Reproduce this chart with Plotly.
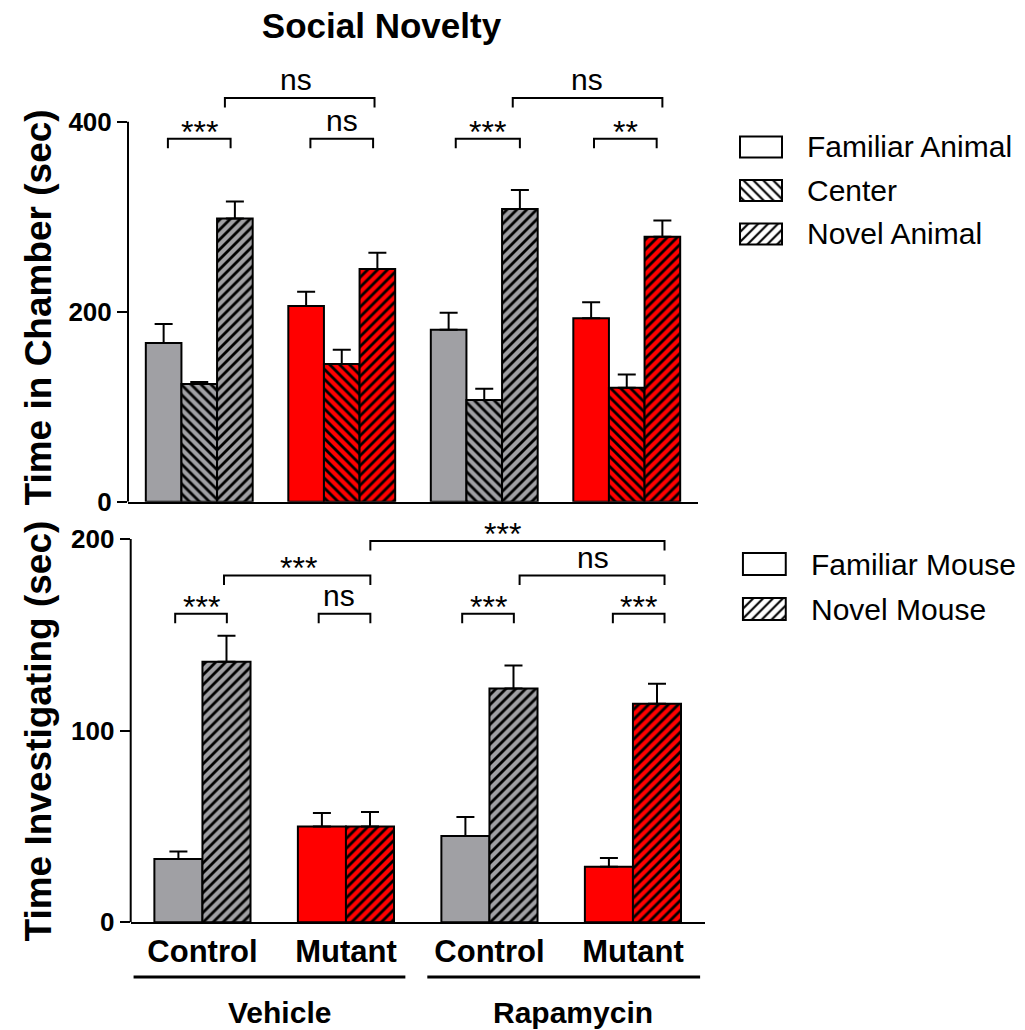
import plotly.graph_objects as go

# ---------------- data ----------------
groups = ["Control", "Mutant", "Control", "Mutant"]
treatments = ["Vehicle", "Rapamycin"]
genotype_colors = {"Control": "#a0a0a4", "Mutant": "#ff0000"}

chamber_series = ["Familiar Animal", "Center", "Novel Animal"]
chamber_familiar = [167, 206, 181, 193]
chamber_familiar_err = [20, 15, 18, 17]
chamber_center = [124, 145, 107, 120]
chamber_center_err = [2, 15, 12, 14]
chamber_novel = [298, 245, 308, 279]
chamber_novel_err = [18, 17, 20, 17]
chamber_ticks = [0, 200, 400]

invest_series = ["Familiar Mouse", "Novel Mouse"]
invest_familiar = [33, 50, 45, 29]
invest_familiar_err = [4, 7, 10, 4.5]
invest_novel = [136, 50, 122, 114]
invest_novel_err = [13.5, 7.5, 12, 10.5]
invest_ticks = [0, 100, 200]

# significance brackets: (x start, x end, bracket level, label, label x)
chamber_sig = [
    (-0.22, 0.22, 382, "***", 0.0),
    (0.18, 1.23, 425, "ns", 0.68),
    (0.78, 1.22, 382, "ns", 1.0),
    (1.80, 2.25, 382, "***", 2.02),
    (2.20, 3.25, 425, "ns", 2.72),
    (2.77, 3.21, 382, "**", 2.99),
]
invest_sig = [
    (-0.19, 0.17, 161, "***", -0.01),
    (0.15, 1.17, 181, "***", 0.67),
    (0.81, 1.17, 161, "ns", 0.95),
    (1.17, 3.22, 199, "***", 2.09),
    (1.81, 2.17, 161, "***", 1.99),
    (2.21, 3.22, 181, "ns", 2.72),
    (2.86, 3.22, 161, "***", 3.04),
]

FONT = "Arial, Liberation Sans, sans-serif"
W, H = 1025, 1030
xpos = list(range(len(groups)))


def bars(y, err, shape, xa, ya, width, offset):
    """One trace per genotype so every trace has a single fill colour."""
    out = []
    for g, col in genotype_colors.items():
        idx = [i for i, name in enumerate(groups) if name == g]
        out.append(go.Bar(
            x=[xpos[i] for i in idx], y=[y[i] for i in idx],
            xaxis=xa, yaxis=ya, width=width, offset=offset,
            marker=dict(color=col, line=dict(color="black", width=2),
                        pattern=dict(shape=shape, fgcolor="black", fgopacity=1, bgcolor=col,
                                     fillmode="overlay", size=7, solidity=0.4)),
            error_y=dict(type="data", symmetric=False, array=[err[i] for i in idx],
                         arrayminus=[0] * len(idx), color="black", thickness=2, width=9),
            showlegend=False, hoverinfo="x+y",
        ))
    return out


fig = go.Figure()
# top panel: time in chamber
fig.add_traces(bars(chamber_familiar, chamber_familiar_err, "", "x", "y", 0.25, -0.375))
fig.add_traces(bars(chamber_center, chamber_center_err, "\\", "x", "y", 0.25, -0.125))
fig.add_traces(bars(chamber_novel, chamber_novel_err, "/", "x", "y", 0.25, 0.125))
# bottom panel: time investigating
fig.add_traces(bars(invest_familiar, invest_familiar_err, "", "x2", "y2", 0.335, -0.335))
fig.add_traces(bars(invest_novel, invest_novel_err, "/", "x2", "y2", 0.335, 0.0))

# legend keys drawn as patterned boxes
fig.add_trace(go.Bar(
    y=list(range(len(chamber_series))), x=[1] * len(chamber_series), base=0,
    orientation="h", width=0.48, xaxis="x3", yaxis="y3", showlegend=False,
    marker=dict(color="white", line=dict(color="black", width=2),
                pattern=dict(shape=["", "\\", "/"], fgcolor="black", fgopacity=1, bgcolor="white",
                             fillmode="overlay", size=7, solidity=0.3)),
    hoverinfo="skip",
))
fig.add_trace(go.Bar(
    y=list(range(len(invest_series))), x=[1] * len(invest_series), base=0,
    orientation="h", width=0.49, xaxis="x4", yaxis="y4", showlegend=False,
    marker=dict(color="white", line=dict(color="black", width=2),
                pattern=dict(shape=["", "/"], fgcolor="black", fgopacity=1, bgcolor="white",
                             fillmode="overlay", size=7, solidity=0.3)),
    hoverinfo="skip",
))

shapes = []
annotations = []

# y-axis lines stopping at top tick
for ya, top in (("y", chamber_ticks[-1]), ("y2", invest_ticks[-1])):
    xa = "x" if ya == "y" else "x2"
    shapes.append(dict(type="line", xref=xa + " domain", yref=ya, x0=0, x1=0,
                       y0=0, y1=top, line=dict(color="black", width=2)))

# significance brackets
for sig, xa, ya, leg in ((chamber_sig, "x", "y", 10), (invest_sig, "x2", "y2", 5)):
    for x0, x1, lvl, lab, tx in sig:
        shapes.append(dict(type="path", xref=xa, yref=ya,
                           path=f"M{x0},{lvl - leg} L{x0},{lvl} L{x1},{lvl} L{x1},{lvl - leg}",
                           line=dict(color="black", width=2)))
        is_star = "*" in lab
        annotations.append(dict(text=lab, x=tx, y=lvl, xref=xa, yref=ya,
                                showarrow=False, xanchor="center", yanchor="middle",
                                yshift=7 if is_star else 18,
                                font=dict(family=FONT, size=32 if is_star else 30, color="black")))

# treatment underlines and labels
for i, t in enumerate(treatments):
    x0, x1 = (-0.48, 1.414) if i == 0 else (1.567, 3.468)
    shapes.append(dict(type="line", xref="x2", yref="paper", x0=x0, x1=x1,
                       y0=(H - 977) / H, y1=(H - 977) / H, line=dict(color="black", width=3)))
    annotations.append(dict(text=t, x=0.54 if i == 0 else 2.58, y=(H - 1012) / H,
                            xref="x2", yref="paper", showarrow=False,
                            xanchor="center", yanchor="middle",
                            font=dict(family=FONT, size=30, color="black", weight="bold")))

# legend labels
for i, s in enumerate(chamber_series):
    annotations.append(dict(text=s, x=805 / W, y=i, xref="paper", yref="y3",
                            xanchor="left", yanchor="middle", showarrow=False,
                            font=dict(family=FONT, size=30, color="black")))
for i, s in enumerate(invest_series):
    annotations.append(dict(text=s, x=809 / W, y=i, xref="paper", yref="y4",
                            xanchor="left", yanchor="middle", showarrow=False,
                            font=dict(family=FONT, size=30, color="black")))

# y titles
annotations.append(dict(text="Time in Chamber (sec)", textangle=-90, x=37.5 / W, y=(H - 308) / H,
                        xref="paper", yref="paper", showarrow=False, xanchor="center", yanchor="middle",
                        font=dict(family=FONT, size=37, color="black", weight="bold")))
annotations.append(dict(text="Time Investigating (sec)", textangle=-90, x=37.5 / W, y=(H - 731) / H,
                        xref="paper", yref="paper", showarrow=False, xanchor="center", yanchor="middle",
                        font=dict(family=FONT, size=37, color="black", weight="bold")))

tickfont = dict(family=FONT, size=26, color="black", weight="bold")
common = dict(automargin=False, fixedrange=True, showgrid=False, zeroline=False)

fig.update_layout(
    template="none",
    width=W, height=H, autosize=False, margin=dict(l=0, r=0, t=0, b=0, pad=0),
    paper_bgcolor="white", plot_bgcolor="white",
    barmode="overlay", showlegend=False,
    title=dict(text="Social Novelty", x=381.5 / W, xanchor="center", y=(H - 26) / H,
               yanchor="middle", xref="paper", yref="paper", automargin=False,
               font=dict(family=FONT, size=35, color="black", weight="bold")),
    xaxis=dict(domain=[128 / W, 698 / W], range=[-0.5, 3.5], anchor="y",
               showline=True, linecolor="black", linewidth=2, ticks="",
               showticklabels=False, **common),
    yaxis=dict(domain=[(H - 501.7) / H, (H - 83.7) / H], range=[0, 440], anchor="x",
               tickvals=chamber_ticks, ticks="outside", ticklen=10, tickwidth=2,
               tickcolor="black", showline=False, tickfont=tickfont, **common),
    xaxis2=dict(domain=[130.7 / W, 704.7 / W], range=[-0.5, 3.5], anchor="y2",
                tickvals=xpos, ticktext=groups, ticks="",
                showline=True, linecolor="black", linewidth=2,
                tickfont=dict(family=FONT, size=31, color="black", weight="bold"), **common),
    yaxis2=dict(domain=[(H - 922.3) / H, (H - 529.4) / H], range=[0, 205], anchor="x2",
                tickvals=invest_ticks, ticks="outside", ticklen=10, tickwidth=2,
                tickcolor="black", showline=False, tickfont=tickfont, **common),
    xaxis3=dict(domain=[737.9 / W, 784.1 / W], range=[-0.05, 1.05], anchor="y3", visible=False, **common),
    yaxis3=dict(domain=[(H - 255.75) / H, (H - 125.25) / H], range=[2.5, -0.5], anchor="x3", visible=False, **common),
    xaxis4=dict(domain=[740.8 / W, 787.9 / W], range=[-0.05, 1.05], anchor="y4", visible=False, **common),
    yaxis4=dict(domain=[(H - 631.5) / H, (H - 541.5) / H], range=[1.5, -0.5], anchor="x4", visible=False, **common),
    shapes=shapes, annotations=annotations,
)

fig.write_html(
    "out.html",
    config={"displayModeBar": False},
    post_script="document.body.style.margin='0';document.body.style.overflow='hidden';",
)
